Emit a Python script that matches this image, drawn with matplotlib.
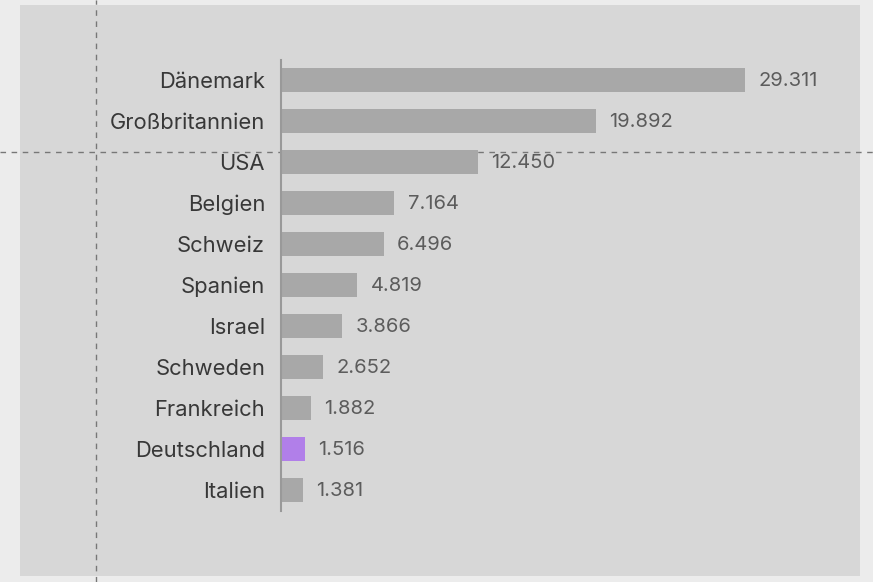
import matplotlib.pyplot as plt
from matplotlib.patches import Rectangle
from matplotlib.lines import Line2D

countries = ["Dänemark", "Großbritannien", "USA", "Belgien", "Schweiz", "Spanien",
             "Israel", "Schweden", "Frankreich", "Deutschland", "Italien"]
values = [29.311, 19.892, 12.450, 7.164, 6.496, 4.819, 3.866, 2.652, 1.882, 1.516, 1.381]
value_labels = ["29.311", "19.892", "12.450", "7.164", "6.496", "4.819",
                "3.866", "2.652", "1.882", "1.516", "1.381"]
highlight = "Deutschland"

W, H = 873, 582
fig = plt.figure(figsize=(W / 100, H / 100), dpi=100, facecolor="#ececec")

# grey panel behind the chart
fig.patches.append(Rectangle((20 / W, 1 - 576 / H), 840 / W, 571 / H,
                             transform=fig.transFigure, facecolor="#d7d7d7",
                             edgecolor="none", zorder=-2))
# dashed guide lines
fig.lines.append(Line2D([96 / W, 96 / W], [0, 1], transform=fig.transFigure,
                        color="#777777", lw=1, ls=(0, (4, 4)), zorder=-1))
fig.lines.append(Line2D([0, 1], [1 - 152 / H, 1 - 152 / H], transform=fig.transFigure,
                        color="#777777", lw=1, ls=(0, (4, 4)), zorder=-1))

ax = fig.add_axes([281 / W, 1 - 510.5 / H, (860 - 281) / W, 451 / H])
ax.set_facecolor("none")

pos = list(range(len(countries)))
colors = ["#b17fe9" if c == highlight else "#a8a8a8" for c in countries]
ax.barh(pos, values, height=0.6, color=colors, zorder=2)

for p, v, lab in zip(pos, values, value_labels):
    ax.annotate(lab, (v, p), xytext=(9.5, -1), textcoords="offset points",
                va="center", ha="left", fontsize=14.5, color="#5c5c5c",
                family="Inter")

ax.set_xlim(0, 579 / 15.83)
ax.set_ylim(len(countries) - 0.5, -0.5)
ax.set_yticks(pos)
ax.set_yticklabels(countries, fontsize=15.8, color="#383838", family="Inter")
ax.tick_params(axis="y", length=0, pad=11.5)
for t in ax.get_yticklabels():
    t.set_y(t.get_position()[1])
ax.set_xticks([])
for s in ["top", "right", "bottom"]:
    ax.spines[s].set_visible(False)
ax.spines["left"].set_color("#999999")
ax.spines["left"].set_linewidth(1.5)

fig.savefig("out.png", dpi=100, facecolor=fig.get_facecolor())
